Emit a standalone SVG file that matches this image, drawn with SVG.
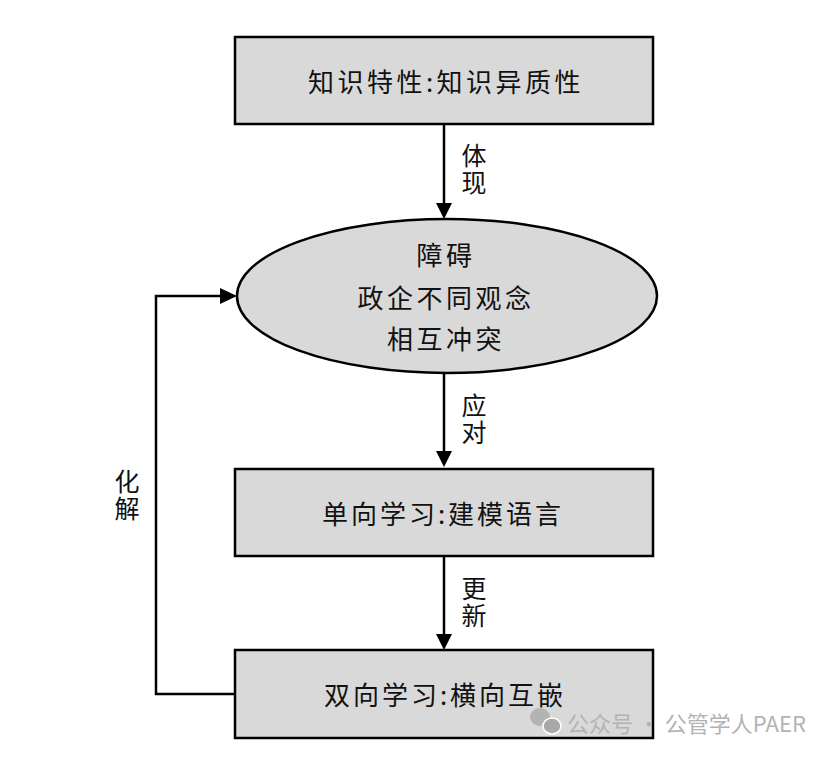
<svg xmlns="http://www.w3.org/2000/svg" width="832" height="758" viewBox="0 0 832 758">
<style>
.box{fill:#d9d9d9;stroke:#000;stroke-width:2.5}
.t{font-family:"Noto Sans CJK SC","Noto Sans CJK JP",sans-serif;font-size:26px;fill:#111;text-anchor:middle;dominant-baseline:central}
.lb{font-family:"Noto Sans CJK SC","Noto Sans CJK JP",sans-serif;font-size:25px;fill:#111;text-anchor:middle;writing-mode:vertical-rl;letter-spacing:2.5px}
.ln{fill:none;stroke:#000;stroke-width:2.5}
.wm{font-family:"Noto Sans CJK SC",sans-serif;font-size:22px;fill:#b3b3b3;dominant-baseline:central}
</style>
<rect width="832" height="758" fill="#fff"/>
<g id="connectors">
<line class="ln" x1="444" y1="125" x2="444" y2="207"/>
<path d="M436,203 L452,203 L444,219 z" fill="#000"/>
<line class="ln" x1="444" y1="373" x2="444" y2="455"/>
<path d="M436,451 L452,451 L444,467 z" fill="#000"/>
<line class="ln" x1="444" y1="557" x2="444" y2="638"/>
<path d="M436,634 L452,634 L444,650 z" fill="#000"/>
<path class="ln" d="M235,694 L156,694 L156,296 L224,296"/>
<path d="M220,288 L237,296 L220,304 z" fill="#000"/>
<text class="lb" x="474" y="170">体现</text>
<text class="lb" x="474" y="420">应对</text>
<text class="lb" x="474" y="603">更新</text>
<text class="lb" x="127" y="496">化解</text>
</g>
<g id="node1">
<rect class="box" x="235" y="37" width="418" height="87"/>
<text class="t" x="446" y="80" letter-spacing="3.5">知识特性:知识异质性</text>
</g>
<g id="node2">
<ellipse class="box" cx="447" cy="296" rx="210" ry="77"/>
<text class="t" x="446" y="253" letter-spacing="3.5">障碍</text>
<text class="t" x="446" y="296" letter-spacing="3.5">政企不同观念</text>
<text class="t" x="446" y="337" letter-spacing="3.5">相互冲突</text>
</g>
<g id="node3">
<rect class="box" x="235" y="469" width="418" height="87"/>
<text class="t" x="443" y="512" letter-spacing="3">单向学习:建模语言</text>
</g>
<g id="node4">
<rect class="box" x="235" y="650" width="418" height="88"/>
<text class="t" x="445" y="693" letter-spacing="3">双向学习:横向互嵌</text>
</g>
<g id="watermark">
<ellipse cx="540" cy="717" rx="10" ry="9" fill="#b3b3b3"/>
<ellipse cx="552" cy="726" rx="9" ry="8" fill="#a8a8a8" stroke="#fff" stroke-width="1.5"/>
<text class="wm" x="567" y="722">公众号 · 公管学人PAER</text>
</g>
</svg>
